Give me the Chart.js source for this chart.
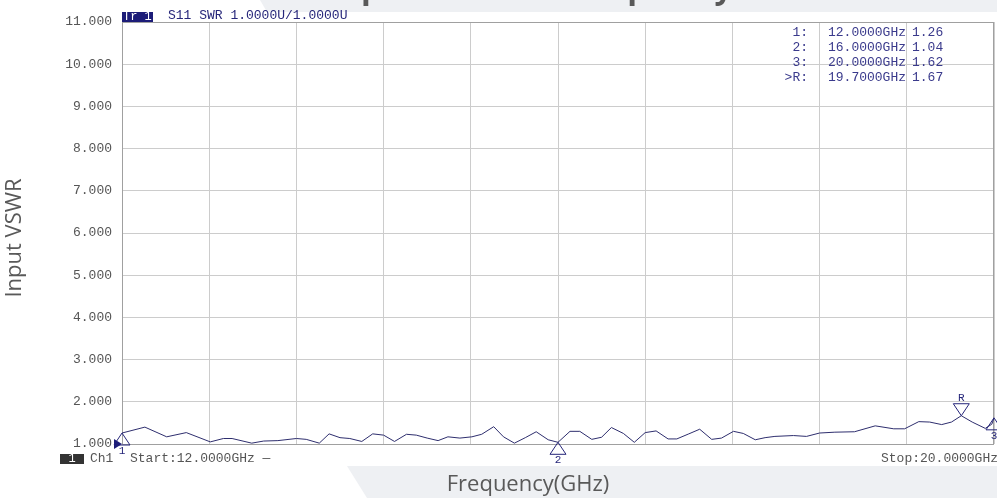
<!DOCTYPE html>
<html>
<head>
<meta charset="utf-8">
<script src="https://cdn.jsdelivr.net/npm/chart.js@4.4.1/dist/chart.umd.min.js"></script>
<style>
  html, body { margin: 0; padding: 0; background: #ffffff; }
  #wrap { position: relative; width: 997px; height: 498px; }
</style>
</head>
<body>
<div id="wrap"><canvas id="c" width="997" height="498"></canvas></div>
<script>
// S11 trace: frequency (GHz) and measured SWR
const freqGHz = [
  12.00, 12.21, 12.41, 12.59, 12.81, 12.93, 13.01, 13.19, 13.30, 13.43,
  13.60, 13.69, 13.81, 13.90, 14.00, 14.09, 14.20, 14.30, 14.40, 14.50,
  14.61, 14.70, 14.80, 14.90, 14.99, 15.10, 15.21, 15.30, 15.41, 15.50,
  15.60, 15.70, 15.80, 15.91, 16.00, 16.11, 16.20, 16.31, 16.40, 16.49,
  16.60, 16.70, 16.80, 16.90, 17.01, 17.09, 17.20, 17.30, 17.41, 17.50,
  17.61, 17.70, 17.81, 17.90, 17.99, 18.16, 18.28, 18.40, 18.54, 18.72,
  18.91, 19.08, 19.18, 19.31, 19.41, 19.52, 19.61, 19.70, 19.80, 19.92,
  19.98, 20.00
];
const vswr = [
  1.26, 1.40, 1.17, 1.27, 1.05, 1.13, 1.13, 1.02, 1.07, 1.08,
  1.13, 1.11, 1.02, 1.24, 1.15, 1.13, 1.06, 1.24, 1.21, 1.06,
  1.23, 1.21, 1.14, 1.08, 1.17, 1.14, 1.17, 1.23, 1.41, 1.17,
  1.02, 1.15, 1.29, 1.10, 1.04, 1.30, 1.30, 1.11, 1.16, 1.39,
  1.25, 1.04, 1.27, 1.31, 1.12, 1.12, 1.24, 1.35, 1.11, 1.14,
  1.30, 1.25, 1.10, 1.15, 1.18, 1.20, 1.18, 1.26, 1.28, 1.29,
  1.43, 1.36, 1.36, 1.53, 1.52, 1.46, 1.52, 1.67, 1.52, 1.37,
  1.47, 1.62
];

// axis ticks
const yTicks = [1, 2, 3, 4, 5, 6, 7, 8, 9, 10, 11];
const xGrid = [12, 12.8, 13.6, 14.4, 15.2, 16, 16.8, 17.6, 18.4, 19.2, 20];

// markers
const markerNames = ['1', '2', '3', 'R'];
const markerFreqs = [12.0, 16.0, 20.0, 19.7];
const markerVals = [1.26, 1.04, 1.62, 1.67];
const markerDown = [false, false, false, true];

// text
const chartTitle = 'Input VSWR vs Frequency';
const xTitle = 'Frequency(GHz)';
const yTitle = 'Input VSWR';
const traceTag = 'Tr 1';
const traceInfo = 'S11 SWR 1.0000U/1.0000U';
const chLabel = 'Ch1';
const startLabel = 'Start:12.0000GHz \u2014';
const stopLabel = 'Stop:20.0000GHz';

const NAVY = '#26267a';
const TXT = '#555555';
const MONO = '"Liberation Mono", "DejaVu Sans Mono", monospace';
const SANS = '"Open Sans", "Noto Sans", sans-serif';

const backdrop = {
  id: 'backdrop',
  beforeDraw(chart) {
    const ctx = chart.ctx;
    ctx.save();
    ctx.fillStyle = '#ffffff';
    ctx.fillRect(0, 0, chart.width, chart.height);
    ctx.fillStyle = '#eef0f3';
    // top band
    ctx.beginPath();
    ctx.moveTo(260, 0); ctx.lineTo(997, 0); ctx.lineTo(997, 12); ctx.lineTo(267, 12);
    ctx.closePath(); ctx.fill();
    // bottom band
    ctx.beginPath();
    ctx.moveTo(347, 466); ctx.lineTo(997, 466); ctx.lineTo(997, 498); ctx.lineTo(367, 498);
    ctx.closePath(); ctx.fill();
    // title, above the canvas edge so only its descenders remain
    ctx.fillStyle = '#595959';
    ctx.font = 'bold 32px ' + SANS;
    ctx.textAlign = 'center';
    ctx.textBaseline = 'alphabetic';
    ctx.fillText(chartTitle, 531, -2);
    ctx.restore();
  },
  beforeDatasetsDraw(chart) {
    const { ctx, chartArea: a } = chart;
    ctx.save();
    ctx.strokeStyle = '#a0a0a0';
    ctx.lineWidth = 1;
    ctx.strokeRect(a.left + 0.5, a.top + 0.5, a.right - a.left - 1, a.bottom - a.top);
    ctx.restore();
  }
};

const overlay = {
  id: 'overlay',
  afterDraw(chart) {
    const { ctx, chartArea: a } = chart;
    const xs = chart.scales.x, ys = chart.scales.y;
    ctx.save();

    // trace header
    ctx.fillStyle = '#1c1c78';
    ctx.fillRect(a.left, 12, 31, 10);
    ctx.font = '12px ' + MONO;
    ctx.textBaseline = 'middle';
    ctx.textAlign = 'left';
    ctx.fillStyle = '#ffffff';
    ctx.fillText(traceTag, a.left + 1, 17);
    ctx.font = '13px ' + MONO;
    ctx.fillStyle = NAVY;
    ctx.fillText(traceInfo, 168, 16);

    // marker table
    const order = [0, 1, 2, 3];
    order.forEach((i, row) => {
      const y = 33 + row * 15;
      ctx.fillStyle = '#3a3a8c';
      ctx.font = '13px ' + MONO;
      ctx.textAlign = 'right';
      const tag = (markerNames[i] === 'R' ? '>' : '') + markerNames[i] + ':';
      ctx.fillText(tag, 808, y);
      ctx.textAlign = 'left';
      ctx.fillText(markerFreqs[i].toFixed(4) + 'GHz', 828, y);
      ctx.fillText(markerVals[i].toFixed(2), 912, y);
    });

    // markers on the trace
    ctx.strokeStyle = NAVY;
    ctx.lineWidth = 1;
    ctx.font = '11px ' + MONO;
    ctx.textAlign = 'center';
    markerFreqs.forEach((f, i) => {
      const px = xs.getPixelForValue(f);
      const py = ys.getPixelForValue(markerVals[i]);
      const d = markerDown[i] ? -1 : 1;
      ctx.beginPath();
      ctx.moveTo(px, py);
      ctx.lineTo(px - 8, py + d * 12);
      ctx.lineTo(px + 8, py + d * 12);
      ctx.closePath();
      ctx.stroke();
      ctx.fillStyle = NAVY;
      ctx.fillText(markerNames[i], px, py + d * 18);
    });

    // reference level pointer
    const ry = ys.getPixelForValue(1);
    ctx.fillStyle = '#1c1c78';
    ctx.beginPath();
    ctx.moveTo(a.left, ry);
    ctx.lineTo(a.left - 8, ry - 5);
    ctx.lineTo(a.left - 8, ry + 5);
    ctx.closePath();
    ctx.fill();

    // channel bar
    ctx.fillStyle = '#333333';
    ctx.fillRect(60, 454, 24, 10);
    ctx.fillStyle = '#ffffff';
    ctx.font = '12px ' + MONO;
    ctx.textAlign = 'center';
    ctx.fillText('1', 72, 459);
    ctx.fillStyle = TXT;
    ctx.font = '13px ' + MONO;
    ctx.textAlign = 'left';
    ctx.fillText(chLabel, 90, 459);
    ctx.fillText(startLabel, 130, 459);
    ctx.textAlign = 'right';
    ctx.fillText(stopLabel, 998, 459);

    // axis titles
    ctx.fillStyle = '#595959';
    ctx.font = '22px ' + SANS;
    ctx.textAlign = 'center';
    ctx.textBaseline = 'middle';
    ctx.fillText(xTitle, 528, 485);
    ctx.translate(15, 238);
    ctx.rotate(-Math.PI / 2);
    ctx.fillText(yTitle, 0, 0);
    ctx.restore();
  }
};

new Chart(document.getElementById('c'), {
  type: 'line',
  data: {
    datasets: [{
      data: freqGHz.map((f, i) => ({ x: f, y: vswr[i] })),
      borderColor: '#2e2e6e',
      borderWidth: 1,
      pointRadius: 0,
      tension: 0,
      fill: false
    }]
  },
  options: {
    responsive: false,
    animation: false,
    devicePixelRatio: 1,
    layout: { padding: { left: 0, top: 22, right: 3, bottom: 0 } },
    plugins: { legend: { display: false }, tooltip: { enabled: false }, title: { display: false } },
    scales: {
      x: {
        type: 'linear',
        min: 12, max: 20,
        afterBuildTicks(s) { s.ticks = xGrid.map(v => ({ value: v })); },
        afterFit(s) { s.height = 54; },
        ticks: { display: false },
        border: { display: false },
        grid: { color: '#cccccc', lineWidth: 1, drawTicks: false }
      },
      y: {
        type: 'linear',
        min: 1, max: 11,
        afterBuildTicks(s) { s.ticks = yTicks.map(v => ({ value: v })); },
        afterFit(s) { s.width = 122; },
        border: { display: false },
        grid: { color: '#cccccc', lineWidth: 1, drawTicks: false },
        ticks: {
          padding: 10,
          color: TXT,
          font: { family: MONO, size: 13 },
          callback: v => Number(v).toFixed(3)
        }
      }
    }
  },
  plugins: [backdrop, overlay]
});
</script>
</body>
</html>
